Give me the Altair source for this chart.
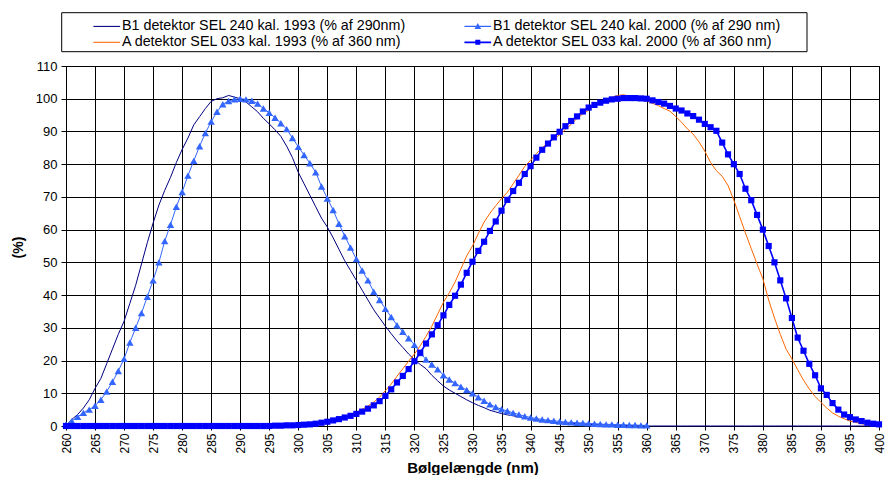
import altair as alt
import pandas as pd

# ---------------- data ----------------
wl_full = list(range(260, 401))      # 260..400 nm, 1 nm step
wl_b1_2000 = list(range(260, 361))   # 260..360 nm

b1_1993 = [
    0, 2, 3.5, 5.5, 8, 11.5, 14.5, 19, 23.5, 28,
    32, 37.5, 43, 49.5, 56, 62, 67.5, 72, 76, 80.5,
    84.5, 88, 92, 94.5, 97, 99.2, 100, 100.3, 101, 100.5,
    100, 99, 97.5, 96, 94, 92.3, 90.5, 88.5, 85.5, 82,
    77.5, 74, 70.5, 67, 63.5, 60.8, 57.5, 54, 50.5, 47.5,
    44.5, 41.5, 38.5, 35.5, 33, 30.5, 28.2, 26, 24, 22,
    20.3, 18.8, 17.5, 15.5, 13.8, 12.2, 11, 10, 9, 8,
    7.1, 6.3, 5.6, 4.8, 4.3, 3.8, 3.4, 3.1, 2.8, 2.5,
    2.2, 1.9, 1.6, 1.4, 1.1, 1, 0.9, 0.8, 0.7, 0.6,
    0.5, 0.4, 0.4, 0.3, 0.3, 0.2, 0.2, 0.1, 0.1, 0.1,
    0, 0, 0, 0, 0, 0, 0, 0, 0, 0,
    0, 0, 0, 0, 0, 0, 0, 0, 0, 0,
    0, 0, 0, 0, 0, 0, 0, 0, 0, 0,
    0, 0, 0, 0, 0, 0, 0, 0, 0, 0,
    0,
]

b1_2000 = [
    0.5, 1.5, 2.8, 4, 5, 6.2, 8, 10.5, 13.5, 16.8,
    20.5, 25.5, 30, 34.5, 39.5, 44.5, 50, 56.5, 61.5, 67,
    71.5, 76.5, 81, 85.5, 89.5, 93, 96, 98.3, 99.3, 99.8,
    100, 99.8, 99.4, 98.5, 97, 95.7, 94.2, 92.5, 90.7, 88,
    85.3, 82.8, 80.3, 77.5, 73.2, 69.5, 66, 61.8, 58, 54.5,
    51, 47.5, 44.5, 41, 38.5, 35.8, 33.3, 30.8, 28.8, 26.8,
    24.8, 22.3, 20.3, 18.8, 17.3, 15.5, 14.2, 13.1, 12, 11,
    10, 8.8, 7.7, 6.6, 5.8, 5.1, 4.6, 4, 3.5, 3,
    2.6, 2.3, 2, 1.8, 1.6, 1.4, 1.2, 1.1, 1, 0.9,
    0.8, 0.7, 0.6, 0.5, 0.5, 0.4, 0.4, 0.3, 0.3, 0.2,
    0.2,
]

a_1993 = [
    0, 0, 0, 0, 0, 0, 0, 0, 0, 0,
    0, 0, 0, 0, 0, 0, 0, 0, 0, 0,
    0, 0, 0, 0, 0, 0, 0, 0, 0, 0,
    0, 0, 0, 0, 0, 0, 0, 0, 0, 0,
    0.3, 0.4, 0.6, 0.8, 1.1, 1.4, 1.8, 2.3, 2.8, 3.4,
    4.2, 5.1, 6.1, 7.3, 8.8, 10.8, 12.8, 15.2, 17.5, 19.8,
    22, 24.5, 27.4, 30.5, 34.2, 37.8, 40.7, 44, 48, 52,
    55, 58.8, 62.3, 65, 67.3, 69.5, 71.4, 74, 76.6, 79.3,
    81.2, 83.2, 85, 86.5, 87.7, 89, 90.6, 92.2, 94, 95.3,
    96.5, 97.8, 98.8, 99.7, 100.4, 101, 101.2, 100.8, 100.3, 100,
    99.3, 98.6, 97.9, 97, 96.2, 94.6, 92.8, 90.8, 89.2, 86.8,
    84, 80.5, 78, 76.3, 73.5, 69, 64, 59, 54.2, 49.5,
    45, 38.5, 33, 28, 23.5, 20.5, 17.2, 14, 11.3, 9,
    7.2, 5.5, 4, 3, 2.2, 1.5, 1.1, 0.7, 0.4, 0.2,
    0.1,
]

a_2000 = [
    0, 0, 0, 0, 0, 0, 0, 0, 0, 0,
    0, 0, 0, 0, 0, 0, 0, 0, 0, 0,
    0, 0, 0, 0, 0, 0, 0, 0, 0, 0,
    0, 0, 0, 0, 0, 0, 0.1, 0.1, 0.2, 0.2,
    0.3, 0.4, 0.5, 0.7, 1, 1.3, 1.7, 2.1, 2.6, 3.1,
    3.7, 4.4, 5.3, 6.3, 7.6, 9.2, 11.2, 13.3, 15.3, 17.4,
    19.8, 22.4, 25.2, 28, 30.8, 33.8, 37, 39.8, 43.2, 46.8,
    50.2, 53.5, 56.3, 59.6, 62.5, 65.8, 69.1, 71.8, 74.3, 77,
    79.4, 82, 84.4, 86.3, 88.2, 89.9, 91.6, 93.2, 94.6, 96.1,
    97.3, 98.1, 98.8, 99.4, 99.8, 100, 100.2, 100.2, 100.2, 100.1,
    100, 99.5, 99, 98.5, 97.8, 97, 96.4, 95.5, 94.7, 93.6,
    92.3, 91.3, 90.2, 86.6, 83, 80, 77, 72.5, 69, 64.5,
    60, 55, 50, 44.5, 39, 33, 27, 23, 19, 15.5,
    11.5, 9.5, 7, 5, 3.5, 2.7, 2, 1.5, 1, 0.7,
    0.5,
]

series_names = [
    "B1 detektor SEL 240 kal. 1993 (% af 290nm)",
    "B1 detektor SEL 240 kal. 2000 (% af 290 nm)",
    "A detektor SEL 033 kal. 1993 (% af 360 nm)",
    "A detektor SEL 033 kal. 2000 (% af 360 nm)",
]
series_colors = ["#000080", "#3366FF", "#FF6600", "#0000FF"]
x_ticks = list(range(260, 401, 5))
y_ticks = list(range(0, 111, 10))

# legend symbols: short line (wider than the symbol box), optionally with a marker
legend_paths = [
    "M-1.6,-0.064H1.6V0.064H-1.6Z",
    "M-1.6,-0.064H1.6V0.064H-1.6Z M0,-0.4L0.4,0.32H-0.4Z",
    "M-1.6,-0.064H1.6V0.064H-1.6Z",
    "M-1.6,-0.1H1.6V0.1H-1.6Z M-0.3,-0.3H0.3V0.3H-0.3Z",
]

FONT = "Liberation Sans"


def frame(xs, ys, name):
    return pd.DataFrame({"wl": xs, "val": ys, "series": name})


df_b1_93 = frame(wl_full, b1_1993, series_names[0])
df_b1_00 = frame(wl_b1_2000, b1_2000, series_names[1])
df_a_93 = frame(wl_full, a_1993, series_names[2])
df_a_00 = frame(wl_full, a_2000, series_names[3])

x_axis = alt.Axis(
    values=x_ticks, title="Bølgelængde (nm)", labelAngle=270,
    labelFontSize=12, tickSize=4, labelPadding=3, labelOverlap=False,
    titleFontSize=15, titleFontWeight="bold",
    titleY=41, titleBaseline="middle",
)
y_axis = alt.Axis(
    values=y_ticks, title="(%)", labelFontSize=13, tickSize=5,
    labelPadding=4, labelOverlap=False, titleFontSize=14, titleFontWeight="bold",
    titleAngle=270, titleX=-47.5, titleY=181, titleBaseline="middle",
    titleAlign="center",
)
x_scale = alt.Scale(domain=[260, 400], nice=False, zero=False)
y_scale = alt.Scale(domain=[0, 110], nice=False)


def xe():
    return alt.X("wl:Q", scale=x_scale, axis=x_axis)


def ye():
    return alt.Y("val:Q", scale=y_scale, axis=y_axis)


# legend frame
frame_layer = alt.Chart(pd.DataFrame({"k": [0]})).mark_rect(
    fill="white", stroke="black", strokeWidth=1
).encode(
    x=alt.value(-4.3), x2=alt.value(741), y=alt.value(-53.3), y2=alt.value(-14.3)
)

line_b1_93 = alt.Chart(df_b1_93).mark_line(
    color=series_colors[0], strokeWidth=1
).encode(x=xe(), y=ye())

line_a_93 = alt.Chart(df_a_93).mark_line(
    color=series_colors[2], strokeWidth=1
).encode(x=xe(), y=ye())

line_b1_00 = alt.Chart(df_b1_00).mark_line(
    color=series_colors[1], strokeWidth=1,
    point=alt.OverlayMarkDef(shape="triangle-up", size=55, filled=True,
                             color=series_colors[1], opacity=1),
).encode(x=xe(), y=ye())

line_a_00 = alt.Chart(df_a_00).mark_line(
    color=series_colors[3], strokeWidth=1.6,
    point=alt.OverlayMarkDef(shape="square", size=38, filled=True,
                             color=series_colors[3], opacity=1),
).encode(x=xe(), y=ye())

leg = alt.Legend(
    title=None, orient="none", legendX=32.3, legendY=-48.2, columns=2,
    direction="horizontal",
    symbolSize=279, symbolStrokeWidth=0, symbolOpacity=1,
    labelFontSize=14.3, labelFont=FONT, labelColor="black", labelLimit=600,
    labelOffset=6.7, columnPadding=58, rowPadding=-1, padding=0,
)
legend_df = pd.DataFrame({
    "series": series_names,
    "wl": [None] * 4,
    "val": [None] * 4,
})
legend_layer = alt.Chart(legend_df).mark_point(filled=True, opacity=1).encode(
    x=xe(), y=ye(),
    color=alt.Color("series:N", scale=alt.Scale(domain=series_names, range=series_colors), legend=leg),
    shape=alt.Shape("series:N", scale=alt.Scale(domain=series_names, range=legend_paths), legend=leg),
)

chart = alt.layer(
    frame_layer, line_b1_93, line_a_93, line_b1_00, line_a_00, legend_layer
).properties(
    width=813, height=360,
    padding={"left": 58, "top": 58, "right": 6, "bottom": 49},
    autosize=alt.AutoSizeParams(type="none"),
    background="white",
).configure_axis(
    grid=True, gridColor="black", gridOpacity=1, gridWidth=1,
    domainColor="black", tickColor="black", labelColor="black", titleColor="black",
    labelFont=FONT, titleFont=FONT,
).configure_view(
    stroke="black", strokeWidth=1
)

chart.save("out.html", embed_options={"renderer": "svg", "actions": False})
